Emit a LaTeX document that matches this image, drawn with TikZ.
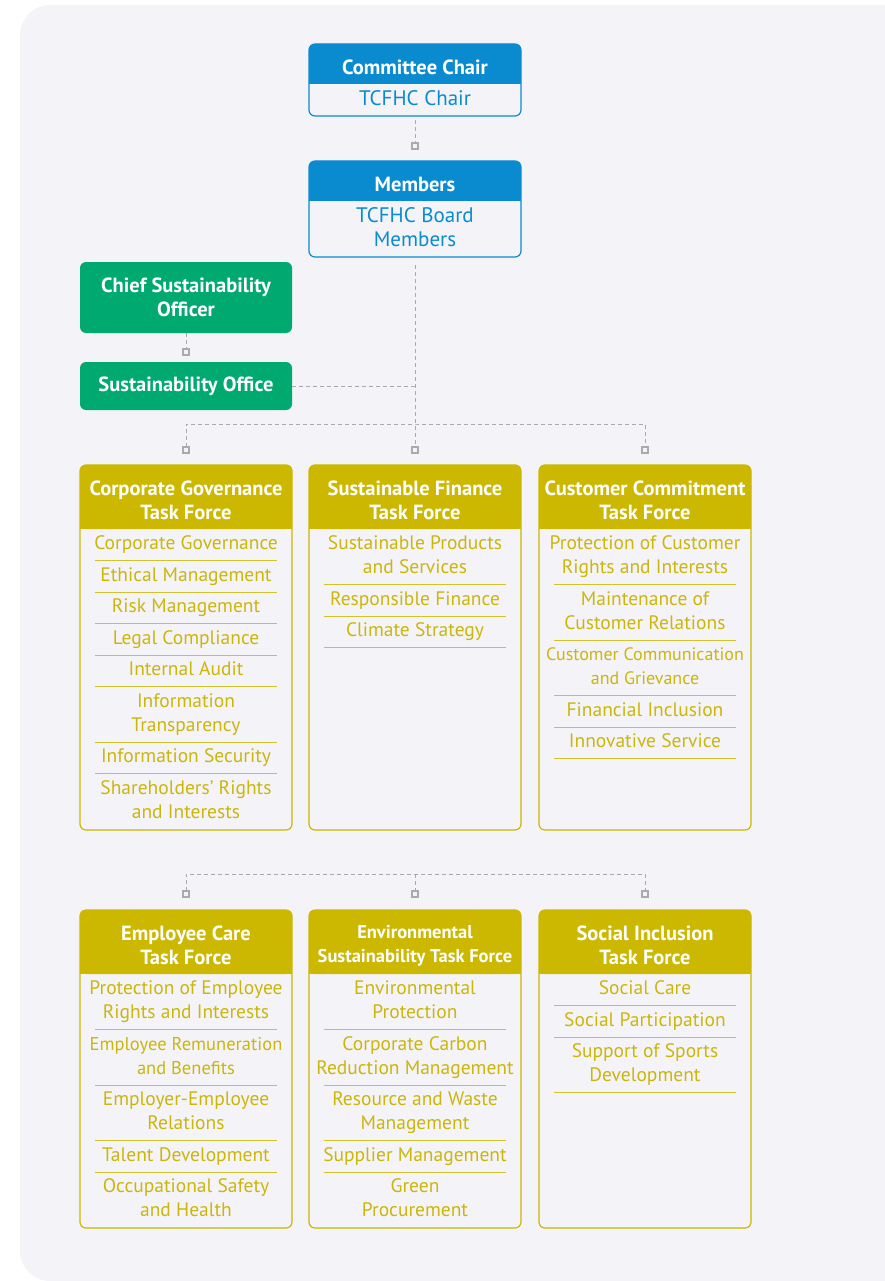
\documentclass[tikz,border=0pt]{standalone}
\usepackage{fontspec}
\setmainfont{PT Sans}
\usetikzlibrary{positioning}
\definecolor{bgpanel}{HTML}{F4F4F8}
\definecolor{chairblue}{HTML}{0A8BD0}
\definecolor{csogreen}{HTML}{00A96F}
\definecolor{tfyellow}{HTML}{CCB800}
\definecolor{itemyellow}{HTML}{CBB60A}
\definecolor{conngray}{HTML}{A9A9AE}
\tikzset{every picture/.style={line width=1.2pt}}
\newcommand{\headfont}{\fontsize{20.5}{24}\selectfont\bfseries}
\newcommand{\itemfont}{\fontsize{19.5}{24}\selectfont}
\newcommand{\narrowfont}{\fontsize{18}{24}\selectfont}
\newcommand{\itemnl}{\strut\\\strut}

\begin{document}
\begin{tikzpicture}[x=1pt, y=-1pt, every node/.style={outer sep=0pt, font=\itemfont},
    boxhead/.style={fill=#1, text=white, font=\headfont, minimum width=212pt,
      rounded corners=6pt, align=center, inner sep=0pt},
    lowtext/.style={text height=#1},
    boxbody/.style={text=chairblue, font=\fontsize{21}{24}\selectfont, minimum width=212pt,
      align=center, inner sep=0pt, text depth=4pt},
    tfitem/.style={text=itemyellow, align=center, inner xsep=0pt, inner ysep=3.75pt,
      execute at begin node=\strut},
    itemrule/.style={draw=tfyellow!85, line width=0.9pt},
    endsq/.style={draw=conngray, fill=bgpanel, line width=1.4pt, minimum size=6pt, inner sep=0pt},
    conn/.style={draw=conngray, line width=0.9pt, dash pattern=on 4pt off 3pt}]
    \useasboundingbox (0,0) rectangle (884,1281);
    % panel
    \fill[bgpanel, rounded corners=30pt] (20,5) rectangle (930,1281);
    % committee
    \node[boxhead=chairblue, lowtext=21pt, minimum height=40pt] (chh) at (415,64) {Committee Chair};
    \node[boxbody, minimum height=32pt, below=0pt of chh] (chb) {TCFHC Chair};
    \node[boxhead=chairblue, lowtext=21pt, minimum height=40pt] (mh) at (415,181) {Members};
    \node[boxbody, minimum height=56pt, below=0pt of mh] (mb) {TCFHC Board\\Members};
    % sustainability office
    \node[boxhead=csogreen, minimum height=71pt] (cso) at (186,297.5) {Chief Sustainability\\Officer};
    \node[boxhead=csogreen, minimum height=48pt] (so) at (186,386) {Sustainability Office};
    % task forces, first row
    \node[boxhead=tfyellow, lowtext=45pt, minimum height=64pt] (cgh) at (186,497) {Corporate Governance\\Task Force};
    \node[boxhead=tfyellow, lowtext=45pt, minimum height=64pt] (sfh) at (415,497) {Sustainable Finance\\Task Force};
    \node[boxhead=tfyellow, lowtext=45pt, minimum height=64pt] (cch) at (645,497) {Customer Commitment\\Task Force};
    % task forces, second row
    \node[boxhead=tfyellow, lowtext=45pt, minimum height=64pt] (ech) at (186,942) {Employee Care\\Task Force};
    \node[boxhead=tfyellow, lowtext=45pt, minimum height=64pt, font=\fontsize{18.5}{24}\selectfont\bfseries] (esh) at (415,942) {Environmental\\Sustainability Task Force};
    \node[boxhead=tfyellow, lowtext=45pt, minimum height=64pt] (sih) at (645,942) {Social Inclusion\\Task Force};
    % square off the lower corners of the headers
    \foreach \h/\c in {chh/chairblue, mh/chairblue, cgh/tfyellow, sfh/tfyellow, cch/tfyellow,
        ech/tfyellow, esh/tfyellow, sih/tfyellow}
      \fill[\c] ([yshift=8pt]\h.south west) rectangle (\h.south east);
    % frames
    \draw[chairblue, rounded corners=6pt] (chh.north west) rectangle (chb.south east);
    \draw[chairblue, rounded corners=6pt] (mh.north west) rectangle (mb.south east);
    \coordinate (row1end) at (0,830);
    \coordinate (row2end) at (0,1228);
    \foreach \h in {cgh, sfh, cch}
      \draw[tfyellow, rounded corners=6pt] (\h.north west) rectangle (\h.east |- row1end);
    \foreach \h in {ech, esh, sih}
      \draw[tfyellow, rounded corners=6pt] (\h.north west) rectangle (\h.east |- row2end);
    % corporate governance
    \node[tfitem, below=0pt of cgh] (cg1) {Corporate Governance};
    \node[tfitem, below=0pt of cg1] (cg2) {Ethical Management};
    \node[tfitem, below=0pt of cg2] (cg3) {Risk Management};
    \node[tfitem, below=0pt of cg3] (cg4) {Legal Compliance};
    \node[tfitem, below=0pt of cg4] (cg5) {Internal Audit};
    \node[tfitem, below=0pt of cg5] (cg6) {Information\itemnl Transparency};
    \node[tfitem, below=0pt of cg6] (cg7) {Information Security};
    \node[tfitem, below=0pt of cg7] (cg8) {Shareholders’ Rights\itemnl and Interests};
    % sustainable finance
    \node[tfitem, below=0pt of sfh] (sf1) {Sustainable Products\itemnl and Services};
    \node[tfitem, below=0pt of sf1] (sf2) {Responsible Finance};
    \node[tfitem, below=0pt of sf2] (sf3) {Climate Strategy};
    % customer commitment
    \node[tfitem, below=0pt of cch] (cc1) {Protection of Customer\itemnl Rights and Interests};
    \node[tfitem, below=0pt of cc1] (cc2) {Maintenance of\itemnl Customer Relations};
    \node[tfitem, below=0pt of cc2, font=\narrowfont] (cc3) {Customer Communication\itemnl and Grievance};
    \node[tfitem, below=0pt of cc3] (cc4) {Financial Inclusion};
    \node[tfitem, below=0pt of cc4] (cc5) {Innovative Service};
    % employee care
    \node[tfitem, below=0pt of ech] (ec1) {Protection of Employee\itemnl Rights and Interests};
    \node[tfitem, below=0pt of ec1, font=\fontsize{18.5}{24}\selectfont] (ec2) {Employee Remuneration\itemnl and Benefits};
    \node[tfitem, below=0pt of ec2] (ec3) {Employer-Employee\itemnl Relations};
    \node[tfitem, below=0pt of ec3] (ec4) {Talent Development};
    \node[tfitem, below=0pt of ec4] (ec5) {Occupational Safety\itemnl and Health};
    % environmental sustainability
    \node[tfitem, below=0pt of esh] (es1) {Environmental\itemnl Protection};
    \node[tfitem, below=0pt of es1] (es2) {Corporate Carbon\itemnl Reduction Management};
    \node[tfitem, below=0pt of es2] (es3) {Resource and Waste\itemnl Management};
    \node[tfitem, below=0pt of es3] (es4) {Supplier Management};
    \node[tfitem, below=0pt of es4] (es5) {Green\itemnl Procurement};
    % social inclusion
    \node[tfitem, below=0pt of sih] (si1) {Social Care};
    \node[tfitem, below=0pt of si1] (si2) {Social Participation};
    \node[tfitem, below=0pt of si2] (si3) {Support of Sports\itemnl Development};
    % rules under the items
    \foreach \n in {cg1,cg2,cg3,cg4,cg5,cg6,cg7, sf1,sf2,sf3, cc1,cc2,cc3,cc4,cc5,
        ec1,ec2,ec3,ec4, es1,es2,es3,es4, si1,si2,si3}
      \draw[itemrule] ([xshift=-91pt]\n.south) -- ([xshift=91pt]\n.south);
    % connectors
    \node[endsq] (sq1) at (415,146) {};
    \node[endsq] (sq2) at (186,352) {};
    \node[endsq] (sqA) at (186,450) {};
    \node[endsq] (sqB) at (415,450) {};
    \node[endsq] (sqC) at (645,450) {};
    \node[endsq] (sqD) at (186,894) {};
    \node[endsq] (sqE) at (415,894) {};
    \node[endsq] (sqF) at (645,894) {};
    \coordinate (bus1) at (415,424);
    \coordinate (bus2) at (415,874);
    \draw[conn, shorten <=4pt] (chb) -- (sq1);
    \draw[conn] (cso) -- (sq2);
    \draw[conn, shorten <=8pt] (mb) -- (sqB);
    \draw[conn] (so) -- (so -| mb);
    \draw[conn] (sqA) |- (bus1) -| (sqC);
    \draw[conn] (sqD) |- (bus2) -| (sqF);
    \draw[conn] (bus2) -- (sqE);
\end{tikzpicture}
\end{document}
